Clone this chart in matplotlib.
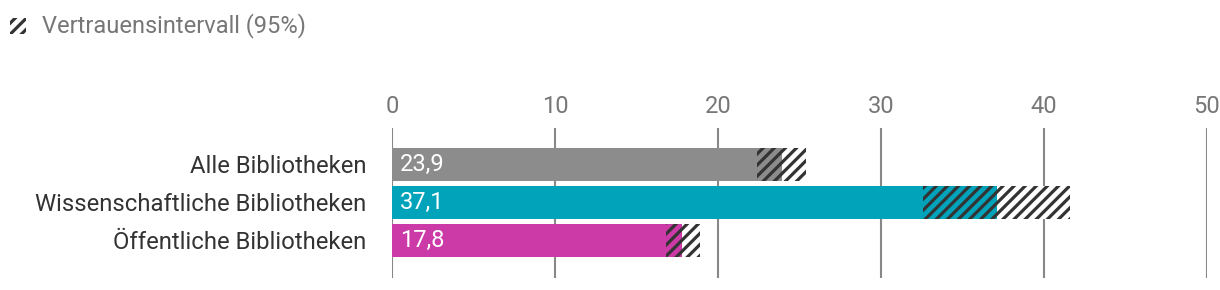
import matplotlib.pyplot as plt
from matplotlib.patches import Rectangle

plt.rcParams['font.family'] = ['Roboto', 'DejaVu Sans']
plt.rcParams['hatch.linewidth'] = 2.3

categories = ['Alle Bibliotheken', 'Wissenschaftliche Bibliotheken', 'Öffentliche Bibliotheken']
values = [23.9, 37.1, 17.8]
ci_low = [22.4, 32.6, 16.8]
ci_high = [25.4, 41.6, 18.9]
colors = ['#8c8c8c', '#00a3ba', '#cc3aa8']
value_labels = ['23,9', '37,1', '17,8']
xticks = [0, 10, 20, 30, 40, 50]

fig = plt.figure(figsize=(12.2, 2.9), dpi=100)
ax = fig.add_axes([392 / 1220, 12 / 290, 815 / 1220, 150 / 290])

y = range(len(categories))
h = 0.87
ax.barh(y, values, height=h, color=colors, zorder=2)
# hatched part inside bar (lower CI -> value)
ax.barh(y, [v - l for v, l in zip(values, ci_low)], left=ci_low, height=h,
        color='none', edgecolor='#333333', linewidth=0, hatch='///', zorder=3)
# hatched part outside bar (value -> upper CI)
ax.barh(y, [u - v for v, u in zip(values, ci_high)], left=values, height=h,
        color='white', edgecolor='#333333', linewidth=0, hatch='///', zorder=3)

for i, lab in enumerate(value_labels):
    ax.text(0.5, i, lab, color='white', fontsize=17, va='center', ha='left', zorder=4)

ax.set_xlim(0, 50)
ax.set_ylim(2.99, -0.96)
ax.set_xticks(xticks)
ax.set_yticks(list(y))
ax.set_yticklabels(categories)
ax.xaxis.tick_top()
ax.tick_params(axis='x', length=0, pad=7, labelsize=17, labelcolor='#777777')
ax.tick_params(axis='y', length=0, pad=18.5, labelsize=17.2, labelcolor='#333333')
ax.grid(axis='x', color='#888888', linewidth=1.5, zorder=1)
ax.set_axisbelow(True)
for s in ax.spines.values():
    s.set_visible(False)

# legend
fig.patches.append(Rectangle((10 / 1220, 1 - 34 / 290), 16 / 1220, 16 / 290,
                             transform=fig.transFigure, facecolor='white',
                             edgecolor='#333333', linewidth=0, hatch='///'))
fig.text(42 / 1220, 1 - 26 / 290, 'Vertrauensintervall (95%)', fontsize=17,
         color='#777777', va='center', ha='left')

fig.savefig('out.png', dpi=100)
